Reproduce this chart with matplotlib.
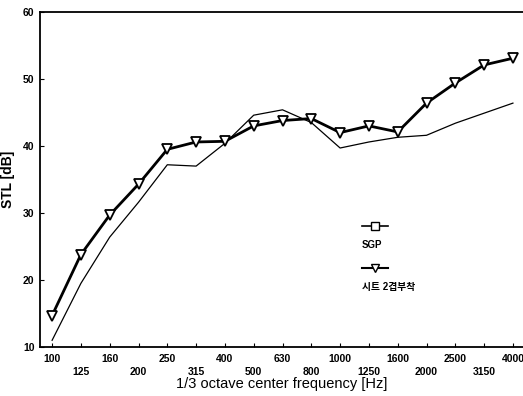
import matplotlib
matplotlib.use("Agg")
import matplotlib.pyplot as plt
from matplotlib.lines import Line2D

plt.rcParams['font.family'] = ['Liberation Sans', 'Noto Sans CJK KR', 'DejaVu Sans']

freqs = ["100", "125", "160", "200", "250", "315", "400", "500", "630", "800",
         "1000", "1250", "1600", "2000", "2500", "3150", "4000"]
sgp = [11.0, 19.5, 26.4, 31.6, 37.2, 37.0, 40.4, 44.6, 45.4, 43.5,
       39.7, 40.6, 41.3, 41.6, 43.4, 44.9, 46.4]
sheet = [14.7, 23.8, 29.7, 34.3, 39.5, 40.6, 40.7, 43.0, 43.8, 44.1,
         42.0, 43.0, 42.1, 46.4, 49.4, 52.1, 53.1]
labels = ["SGP", "시트 2겹부착"]

fig = plt.figure(figsize=(5.23, 3.96), dpi=100)
ax = fig.add_axes([40/523, 1-347/396, 1-40/523, (347-12)/396])

x = list(range(len(freqs)))
ax.plot(x, sgp, color='black', lw=0.9)
ax.plot(x, sheet, color='black', lw=2.0, marker='v', markersize=7,
        markerfacecolor='white', markeredgecolor='black', markeredgewidth=1.3)

ax.set_xlim(-0.42, 16.35)
ax.set_ylim(10, 60)
ax.set_yticks([10, 20, 30, 40, 50, 60])
ax.set_yticklabels(["10", "20", "30", "40", "50", "60"], fontsize=7.5, fontweight='bold')
ax.set_xticks(x)
ax.set_xticklabels([f if i % 2 == 0 else "\n" + f for i, f in enumerate(freqs)],
                   fontsize=7.5, fontweight='bold', linespacing=1.35)
ax.tick_params(axis='both', direction='in', length=3, width=0.8, pad=4)
ax.tick_params(axis='x', pad=5)

ax.spines['right'].set_visible(False)
for s in ['left', 'bottom', 'top']:
    ax.spines[s].set_linewidth(1.3)

ax.set_ylabel("STL [dB]", fontsize=10, fontweight='bold', labelpad=6)
ax.set_xlabel("1/3 octave center frequency [Hz]", fontsize=10.5, labelpad=0)

# legend (stacked: sample line above label)
tr = ax.transAxes
def ax_x(px):
    return (px - 40) / 483
def ax_y(py):
    return 1 - (py - 12) / 335

ax.add_line(Line2D([ax_x(362), ax_x(375), ax_x(388)], [ax_y(226)] * 3, transform=tr,
                   color='black', lw=1.2, marker='s', markersize=5.5, markevery=[1],
                   markerfacecolor='white', markeredgecolor='black'))
ax.text(ax_x(362), ax_y(245), labels[0], transform=tr, fontsize=7,
        fontweight='bold', va='center', ha='left')
ax.add_line(Line2D([ax_x(362), ax_x(375), ax_x(388)], [ax_y(268)] * 3, transform=tr,
                   color='black', lw=1.5, marker='v', markersize=6, markevery=[1],
                   markerfacecolor='white', markeredgecolor='black'))
ax.text(ax_x(362), ax_y(287), labels[1], transform=tr, fontsize=7,
        fontweight='bold', va='center', ha='left')

fig.savefig("out.png", dpi=100)
